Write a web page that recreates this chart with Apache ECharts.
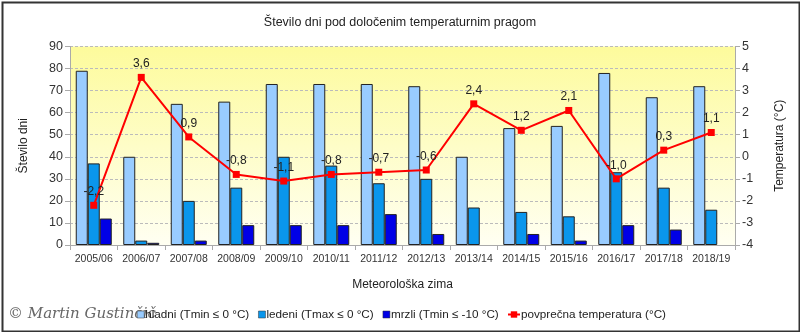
<!DOCTYPE html>
<html><head><meta charset="utf-8">
<script src="https://cdn.jsdelivr.net/npm/echarts@6/dist/echarts.min.js"></script>
<style>html,body{margin:0;padding:0;background:#fff}#c{width:800px;height:332px}</style>
</head><body><div id="c"></div>
<script>
const categories = ['2005/06','2006/07','2007/08','2008/09','2009/10','2010/11','2011/12','2012/13','2013/14','2014/15','2015/16','2016/17','2017/18','2018/19'];
const hladni = [79,40,64,65,73,73,73,72,40,53,54,78,67,72];
const ledeni = [37,2,20,26,40,36,28,30,17,15,13,33,26,16];
const mrzli = [12,1,2,9,9,9,14,5,0,5,2,9,7,0];
const temperatura = [-2.2,3.6,0.9,-0.8,-1.1,-0.8,-0.7,-0.6,2.4,1.2,2.1,-1.0,0.3,1.1];
const leftTicks = [0,90,10];
const rightTicks = [-4,5,1];
const names = ['hladni (Tmin ≤ 0 °C)','ledeni (Tmax ≤ 0 °C)','mrzli (Tmin ≤ -10 °C)','povprečna temperatura (°C)'];

const FONT = 'Liberation Sans';
const chart = echarts.init(document.getElementById('c'), null, {renderer:'canvas'});
const barBase = {type:'bar', barWidth:12, barGap:'0%', barCategoryGap:'24%', yAxisIndex:0};
const noZero = arr => arr.map(v => v === 0 ? {value:0, itemStyle:{borderWidth:0}} : v);
const legText = {fontFamily:FONT, fontSize:11.7, color:'#222', padding:[0,0,0,-4]};
chart.setOption({
  animation:false,
  textStyle:{fontFamily:FONT},
  title:{text:'Število dni pod določenim temperaturnim pragom', left:'center', top:11,
    textStyle:{fontFamily:FONT, fontSize:12.5, fontWeight:'normal', color:'#222'}},
  legend:[
    {top:303.5, left:132, itemGap:9, itemWidth:7, itemHeight:7, icon:'rect',
      itemStyle:{borderColor:'#333', borderWidth:0.5},
      textStyle:legText, data:[names[0], names[1], names[2]]},
    {top:303.5, left:502, itemGap:8, itemWidth:12, itemHeight:8,
      textStyle:legText, data:[names[3]]}
  ],
  grid:{left:70, right:65, top:46.5, bottom:87, show:true, borderWidth:0,
    backgroundColor:{type:'linear', x:0, y:0, x2:0, y2:1, colorStops:[{offset:0,color:'#fdfb9c'},{offset:1,color:'#fffff2'}]}},
  xAxis:{type:'category', data:categories, boundaryGap:true,
    name:'Meteorološka zima', nameLocation:'middle', nameGap:34,
    nameTextStyle:{fontFamily:FONT, fontSize:12, color:'#222'},
    axisLine:{lineStyle:{color:'#aaa'}}, axisTick:{show:true, length:5, lineStyle:{color:'#aaa'}},
    axisLabel:{fontFamily:FONT, fontSize:10.5, color:'#333', margin:9, interval:0}},
  yAxis:[
    {type:'value', min:leftTicks[0], max:leftTicks[1], interval:leftTicks[2], position:'left',
      name:'Število dni', nameLocation:'middle', nameGap:40, nameRotate:90,
      nameTextStyle:{fontFamily:FONT, fontSize:12, color:'#222'},
      axisLine:{show:true, lineStyle:{color:'#aaa'}}, axisTick:{show:true, length:5, lineStyle:{color:'#aaa'}},
      axisLabel:{fontFamily:FONT, fontSize:12.5, color:'#333', margin:7},
      splitLine:{show:true, lineStyle:{color:'#bbb', type:[3,2]}}},
    {type:'value', min:rightTicks[0], max:rightTicks[1], interval:rightTicks[2], position:'right',
      name:'Temperatura (°C)', nameLocation:'middle', nameGap:39, nameRotate:90,
      nameTextStyle:{fontFamily:FONT, fontSize:12, color:'#222'},
      axisLine:{show:true, lineStyle:{color:'#aaa'}}, axisTick:{show:true, length:5, lineStyle:{color:'#aaa'}},
      axisLabel:{fontFamily:FONT, fontSize:12.5, color:'#333', margin:7},
      splitLine:{show:false}}
  ],
  series:[
    Object.assign({}, barBase, {name:names[0], data:noZero(hladni), itemStyle:{color:'#99ccff', borderColor:'#222', borderWidth:1}}),
    Object.assign({}, barBase, {name:names[1], data:noZero(ledeni), itemStyle:{color:'#0a96ec', borderColor:'#222', borderWidth:1}}),
    Object.assign({}, barBase, {name:names[2], data:noZero(mrzli), itemStyle:{color:'#0000e6', borderColor:'#222', borderWidth:1}}),
    {type:'line', name:names[3], yAxisIndex:1, data:temperatura, symbol:'rect', symbolSize:7,
      lineStyle:{color:'#ff0000', width:2}, itemStyle:{color:'#ff0000'},
      label:{show:true, position:'top', distance:4, fontFamily:FONT, fontSize:12, color:'#222',
        formatter:p=>p.value.toFixed(1).replace('.',',')}, z:5}
  ],
  graphic:[
    {type:'rect', left:0, top:0, shape:{x:1, y:1, width:797, height:329}, style:{fill:'none', stroke:'#333', lineWidth:2}, silent:true},
    {type:'text', left:8, top:307, z:-1, style:{text:'© Martin Gustinčič', font:'italic 15px "DejaVu Serif"', fill:'#666'}}
  ]
});
</script></body></html>
